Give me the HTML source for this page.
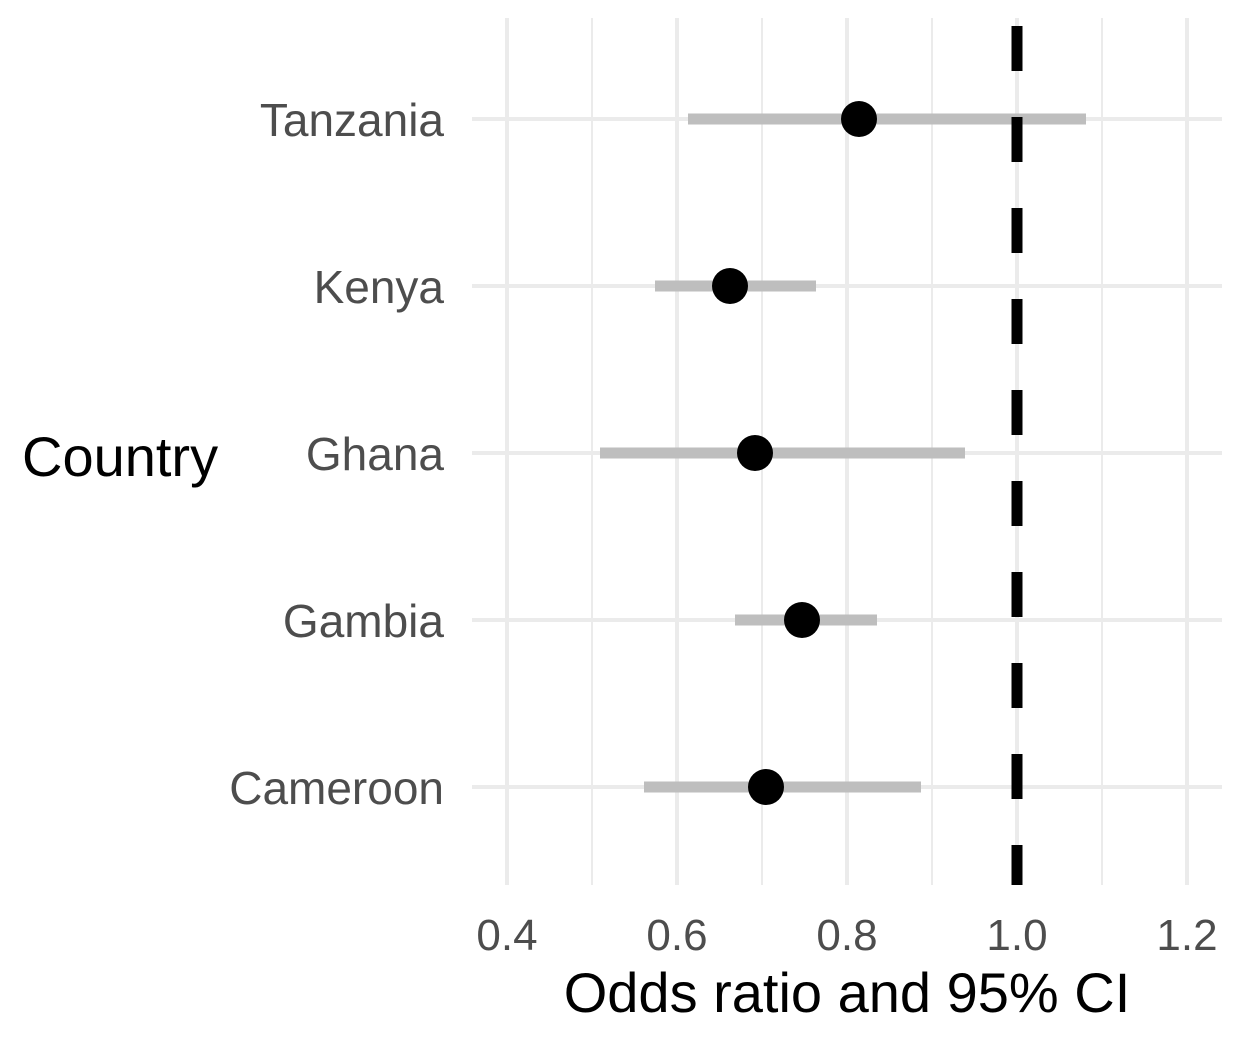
<!DOCTYPE html>
<html><head><style>body{margin:0;background:#fff}</style></head><body>
<svg width="1242" height="1044" xmlns="http://www.w3.org/2000/svg" font-family="Liberation Sans, sans-serif">
<rect width="1242" height="1044" fill="#fff"/>
<g stroke="#ebebeb" stroke-width="2">
<line x1="592" y1="18" x2="592" y2="885"/><line x1="762" y1="18" x2="762" y2="885"/><line x1="932" y1="18" x2="932" y2="885"/><line x1="1102" y1="18" x2="1102" y2="885"/>
</g>
<g stroke="#ebebeb" stroke-width="4">
<line x1="507" y1="18" x2="507" y2="885"/><line x1="677" y1="18" x2="677" y2="885"/><line x1="847" y1="18" x2="847" y2="885"/><line x1="1017" y1="18" x2="1017" y2="885"/><line x1="1187" y1="18" x2="1187" y2="885"/>
<line x1="472" y1="119" x2="1222" y2="119"/><line x1="472" y1="286" x2="1222" y2="286"/><line x1="472" y1="453" x2="1222" y2="453"/><line x1="472" y1="620" x2="1222" y2="620"/><line x1="472" y1="787" x2="1222" y2="787"/>
</g>
<g stroke="#bebebe" stroke-width="11">
<line x1="688" y1="119" x2="1086" y2="119"/><line x1="655" y1="286" x2="816" y2="286"/><line x1="600" y1="453" x2="965" y2="453"/><line x1="735" y1="620" x2="877" y2="620"/><line x1="644" y1="787" x2="921" y2="787"/>
</g>
<line x1="1017" y1="26" x2="1017" y2="885" stroke="#000" stroke-width="11" stroke-dasharray="45 46"/>
<g fill="#000">
<circle cx="859" cy="119" r="18"/><circle cx="730" cy="286" r="18"/><circle cx="755" cy="453" r="18"/><circle cx="802" cy="620" r="18"/><circle cx="766" cy="787" r="18"/>
</g>
<g fill="#4d4d4d" font-size="46" text-anchor="end">
<text x="444" y="136">Tanzania</text><text x="444" y="303">Kenya</text><text x="444" y="470">Ghana</text><text x="444" y="637">Gambia</text><text x="444" y="804">Cameroon</text>
</g>
<g fill="#4d4d4d" font-size="44" text-anchor="middle">
<text x="507" y="950">0.4</text><text x="677" y="950">0.6</text><text x="847" y="950">0.8</text><text x="1017" y="950">1.0</text><text x="1187" y="950">1.2</text>
</g>
<text x="847" y="1012" font-size="56" text-anchor="middle" fill="#000">Odds ratio and 95% CI</text>
<text x="22" y="476" font-size="56" fill="#000">Country</text>
</svg>
</body></html>
